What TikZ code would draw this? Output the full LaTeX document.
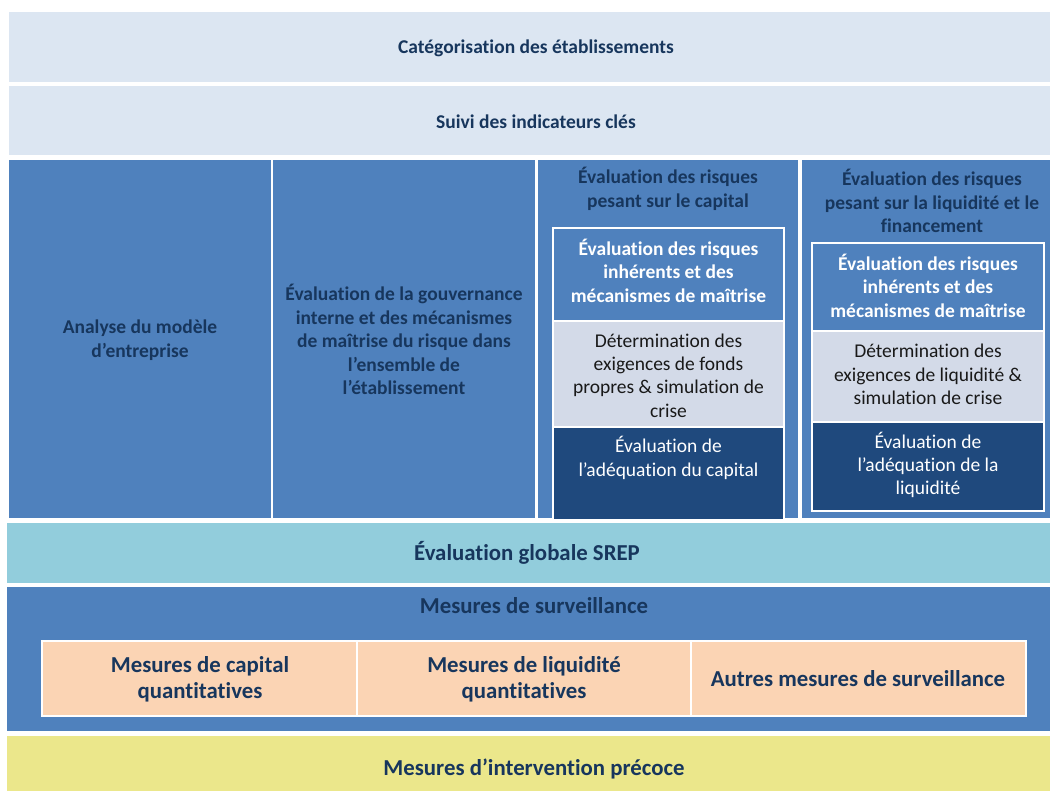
\documentclass[tikz,border=0pt]{standalone}
\usepackage{fontspec}
\setmainfont{Carlito}[Ligatures={NoCommon}]
\definecolor{lightbg}{HTML}{DCE6F2}
\definecolor{midblue}{HTML}{4F81BD}
\definecolor{navytxt}{HTML}{17365D}
\definecolor{greybox}{HTML}{D3DAE8}
\definecolor{darkbox}{HTML}{1F497D}
\definecolor{srep}{HTML}{92CDDC}
\definecolor{peach}{HTML}{FBD4B4}
\definecolor{yellowbg}{HTML}{EBE78B}
\begin{document}
\begin{tikzpicture}[x=1pt,y=-1pt,
  blk/.style={draw=white,line width=1.5pt,inner sep=0pt},
  txt/.style={align=center,inner sep=0pt,font=\fontsize{19.5}{23.4}\selectfont},
  btxt/.style={txt,font=\fontsize{19.5}{23.4}\selectfont\bfseries},
  bigtxt/.style={align=center,inner sep=0pt,font=\fontsize{22.8}{26}\selectfont\bfseries,text=navytxt}]
\useasboundingbox[fill=white] (0,0) rectangle (1050,791);
% top rows
\path[blk,fill=lightbg] (8,11) rectangle (1052,83);
\node[btxt,text=navytxt] (cat) at (536,48) {Catégorisation des établissements};
\path[blk,fill=lightbg] (8,85) rectangle (1052,156);
\node[btxt,text=navytxt] (suivi) at (536,122) {Suivi des indicateurs clés};
% columns
\path[blk,fill=midblue] (8,159) rectangle (272,519);
\node[btxt,text=navytxt] (c1) at (140,340) {Analyse du modèle\\d’entreprise};
\path[blk,fill=midblue] (272,159) rectangle (536,519);
\node[btxt,text=navytxt] (c2) at (404,339.5) {Évaluation de la gouvernance\\interne et des mécanismes\\de maîtrise du risque dans\\l’ensemble de\\l’établissement};
\path[blk,fill=midblue] (537,159) rectangle (799,519);
\node[btxt,text=navytxt] (c3) at (668,189) {Évaluation des risques\\pesant sur le capital};
\path[blk,fill=midblue] (801,159) rectangle (1052,519);
\node[btxt,text=navytxt] (c4) at (932,201) {Évaluation des risques\\pesant sur la liquidité et le\\financement};
% column 3 inner
\path[blk,fill=midblue] (553,228) rectangle (784,321);
\node[btxt,text=white] (c3a) at (668.5,270.5) {Évaluation des risques\\inhérents et des\\mécanismes de maîtrise};
\path[blk,fill=greybox] (553,321) rectangle (784,427);
\node[txt,text=black!90] (c3b) at (668.5,375.5) {Détermination des\\exigences de fonds\\propres \& simulation de\\crise};
\path[blk,fill=darkbox] (553,427) rectangle (784,520);
\node[txt,text=white] (c3c) at (668.5,458) {Évaluation de\\l’adéquation du capital};
% column 4 inner
\path[blk,fill=midblue] (812,243) rectangle (1044,331);
\node[btxt,text=white] (c4a) at (928,285.5) {Évaluation des risques\\inhérents et des\\mécanismes de maîtrise};
\path[blk,fill=greybox] (812,331) rectangle (1044,422);
\node[txt,text=black!90] (c4b) at (928,374.5) {Détermination des\\exigences de liquidité \&\\simulation de crise};
\path[blk,fill=darkbox] (812,422) rectangle (1044,511);
\node[txt,text=white] (c4c) at (928,465) {Évaluation de\\l’adéquation de la\\liquidité};
% bottom
\path[blk,fill=srep] (6,522) rectangle (1052,584);
\node[bigtxt] (srepn) at (527,553) {Évaluation globale SREP};
\path[blk,fill=midblue] (6,586) rectangle (1052,732);
\node[bigtxt] (surv) at (534,606) {Mesures de surveillance};
\path[blk,fill=peach] (42,641) rectangle (357,716);
\node[bigtxt] (m1) at (200,679) {Mesures de capital\\quantitatives};
\path[blk,fill=peach] (357,641) rectangle (691,716);
\node[bigtxt] (m2) at (524,679) {Mesures de liquidité\\quantitatives};
\path[blk,fill=peach] (691,641) rectangle (1026,716);
\node[bigtxt] (m3) at (858,679) {Autres mesures de surveillance};
\path[blk,fill=yellowbg] (6,735) rectangle (1052,795);
\node[bigtxt] (interv) at (534,769) {Mesures d’intervention précoce};
\end{tikzpicture}
\end{document}
